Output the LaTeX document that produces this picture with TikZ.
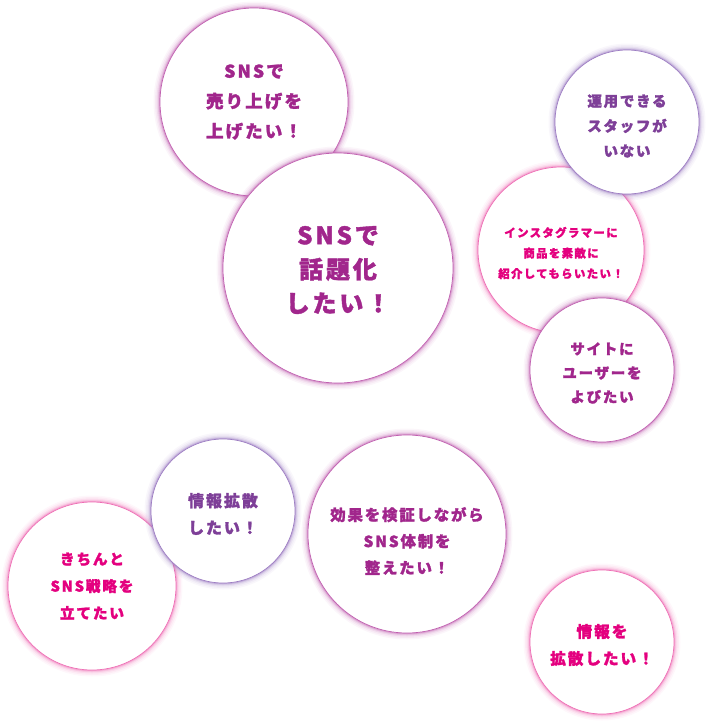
\documentclass[tikz,border=0pt]{standalone}
\usepackage{fontspec}
\newfontfamily\jp{Noto Sans CJK JP}[LetterSpace=12, BoldFeatures={FakeBold=1.6}]
\definecolor{tP}{HTML}{A1268C}
\definecolor{gP}{HTML}{C060B0}
\definecolor{tK}{HTML}{E4007F}
\definecolor{gK}{HTML}{EE6FB5}
\definecolor{tV}{HTML}{7E3F98}
\definecolor{gV}{HTML}{9C7CC2}
\tikzset{
  bubblebox/.style={circle, fill=white, line width=0.7pt, inner sep=0pt},
  bubbletext/.style={inner sep=0pt, align=center},
}
% [text shift], name, x, y, r, colour key, font size, line skip, text
\newcommand{\bubble}[9][0]{%
  \foreach \w/\o in {13/0.06, 10/0.08, 7/0.12, 4.5/0.2, 2.5/0.35}{%
    \draw[g#6, line width=\w pt, opacity=\o] (#3,#4) circle[radius=#5pt];}
  \node[bubblebox, draw=g#6, minimum size=2*#5pt] (#2) at (#3,#4) {};
  \node[bubbletext, text=t#6, yshift=-#1pt,
        font=\jp\bfseries\fontsize{#7}{#8}\selectfont] (#2-t) at (#2.center) {#9};
}
\begin{document}
\begin{tikzpicture}[x=1pt, y=-1pt]
\useasboundingbox (0,0) rectangle (709,724);
\bubble{uriage}{254}{102}{94}{P}{17.5}{30}{SNSで\\売り上げを\\上げたい！}
\bubble[2]{wadai}{338}{268}{115}{P}{24}{34}{SNSで\\話題化\\したい！}
\bubble[3]{insta}{561}{250}{83}{K}{11.4}{20.5}{インスタグラマーに\\商品を素敵に\\紹介してもらいたい！}
\bubble[4]{staff}{627}{122}{72}{V}{14.5}{25}{運用できる\\スタッフが\\いない}
\bubble[3]{site}{602}{370}{72}{P}{14.5}{24}{サイトに\\ユーザーを\\よびたい}
\bubble{senryaku}{92}{586}{84}{K}{14.7}{27}{きちんと\\SNS戦略を\\立てたい}
\bubble[3]{kakusan}{223}{511}{72}{V}{16}{27}{情報拡散\\したい！}
\bubble[7]{kensho}{407}{534}{99}{P}{15.4}{26.5}{効果を検証しながら\\SNS体制を\\整えたい！}
\bubble[3]{jouhou}{602}{642}{72}{K}{15.7}{27}{情報を\\拡散したい！}
\end{tikzpicture}
\end{document}
